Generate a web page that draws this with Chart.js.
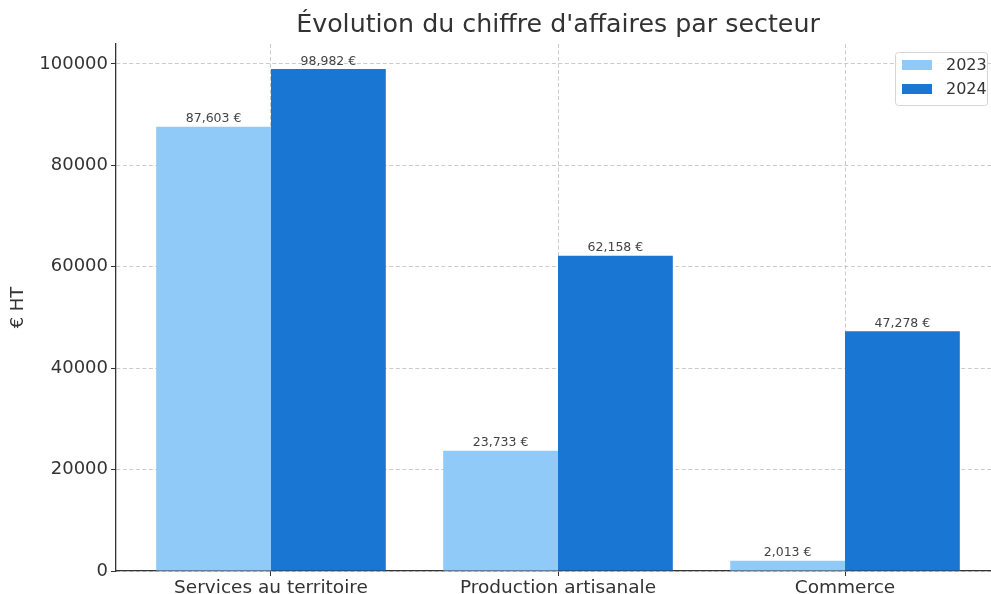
<!DOCTYPE html>
<html>
<head>
<meta charset="utf-8">
<script src="https://cdn.jsdelivr.net/npm/chart.js@4.4.1/dist/chart.umd.min.js"></script>
<style>
  html, body { margin: 0; padding: 0; background: #fff; }
  #wrap { width: 991px; height: 594px; overflow: hidden; }
</style>
</head>
<body>
<div id="wrap"><canvas id="chart" width="1010" height="594"></canvas></div>
<script>
// Données
var categories = ["Services au territoire", "Production artisanale", "Commerce"];
var years = ["2023", "2024"];
var values2023 = [87603, 23733, 2013];
var values2024 = [98982, 62158, 47278];
var yTicks = [0, 20000, 40000, 60000, 80000, 100000];

var colors = ["#90CAF9", "#1976D2"];
var font = "'DejaVu Sans', sans-serif";

function toPoints(arr) {
    return arr.map(function (v, i) { return { x: i, y: v }; });
}

// Étiquettes de valeur + titre + légende
var extras = {
    id: "extras",
    afterDatasetsDraw: function (chart) {
        var ctx = chart.ctx;
        ctx.save();
        ctx.font = "12.5px " + font;
        ctx.fillStyle = "#444";
        ctx.textAlign = "center";
        ctx.textBaseline = "bottom";
        chart.data.datasets.forEach(function (ds, di) {
            chart.getDatasetMeta(di).data.forEach(function (bar, i) {
                var v = ds.data[i].y;
                ctx.fillText(v.toLocaleString("en-US") + " €", bar.x, bar.y - 1.5);
            });
        });
        ctx.restore();
    },
    afterDraw: function (chart) {
        var ctx = chart.ctx;
        var area = chart.chartArea;
        ctx.save();
        // titre
        ctx.font = "25.3px " + font;
        ctx.fillStyle = "#333";
        ctx.textAlign = "center";
        ctx.textBaseline = "middle";
        ctx.fillText("Évolution du chiffre d'affaires par secteur", (area.left + area.right) / 2, 25);

        // légende
        var bx = 895, by = 52, bw = 92, bh = 53;
        ctx.fillStyle = "rgba(255,255,255,0.85)";
        ctx.strokeStyle = "#d5d5d5";
        ctx.lineWidth = 1;
        ctx.beginPath();
        ctx.roundRect(bx + 0.5, by + 0.5, bw, bh, 3);
        ctx.fill();
        ctx.stroke();
        ctx.font = "16px " + font;
        ctx.textAlign = "left";
        years.forEach(function (y, i) {
            var cy = by + 13 + i * 24;
            ctx.fillStyle = colors[i];
            ctx.fillRect(bx + 7, cy - 5, 30, 10);
            ctx.fillStyle = "#333";
            ctx.fillText(y, bx + 51, cy + 1);
        });
        ctx.restore();
    }
};

var gridOpts = {
    color: "rgba(185,185,185,0.75)",
    lineWidth: 1,
    offset: false,
    drawTicks: true,
    tickLength: 5,
    tickColor: "#333",
    tickBorderDash: []
};
var borderOpts = { color: "#333", width: 1.3, dash: [4, 2.5] };

document.addEventListener("DOMContentLoaded", function () {
    var ctx = document.getElementById("chart").getContext("2d");

    new Chart(ctx, {
        type: "bar",
        data: {
            datasets: [{
                label: years[0],
                data: toPoints(values2023),
                backgroundColor: colors[0],
                borderWidth: 0
            }, {
                label: years[1],
                data: toPoints(values2024),
                backgroundColor: colors[1],
                borderWidth: 0
            }]
        },
        options: {
            responsive: false,
            animation: false,
            layout: { padding: { top: 44, right: 10, left: 0, bottom: 0 } },
            datasets: { bar: { categoryPercentage: 0.8, barPercentage: 1.0 } },
            plugins: {
                legend: { display: false },
                title: { display: false },
                tooltip: { enabled: false }
            },
            scales: {
                x: {
                    type: "linear",
                    min: -0.54,
                    max: 2.54,
                    offset: false,
                    z: 1,
                    afterBuildTicks: function (scale) {
                        scale.ticks = categories.map(function (c, i) { return { value: i }; });
                    },
                    afterFit: function (scale) { scale.height = 23; },
                    ticks: {
                        callback: function (v) { return categories[v]; },
                        font: { family: font, size: 18.5 },
                        color: "#333",
                        padding: 1,
                        maxRotation: 0,
                        autoSkip: false
                    },
                    grid: gridOpts,
                    border: borderOpts
                },
                y: {
                    min: 0,
                    max: 103931,
                    z: 1,
                    afterBuildTicks: function (scale) {
                        scale.ticks = yTicks.map(function (v) { return { value: v }; });
                    },
                    afterFit: function (scale) { scale.width = 116; },
                    ticks: {
                        callback: function (v) { return String(v); },
                        font: { family: font, size: 18 },
                        color: "#333",
                        padding: 3
                    },
                    grid: gridOpts,
                    border: borderOpts,
                    title: {
                        display: true,
                        text: "€ HT",
                        font: { family: font, size: 18 },
                        color: "#333",
                        padding: { top: 8, bottom: 0 }
                    }
                }
            }
        },
        plugins: [extras]
    });
});
</script>
</body>
</html>
